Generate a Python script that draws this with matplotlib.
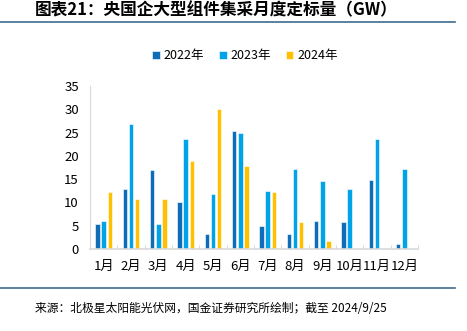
import matplotlib
matplotlib.use("Agg")
from matplotlib import pyplot as plt
import numpy as np

plt.rcParams['font.family'] = ['Noto Sans CJK SC', 'DejaVu Sans']

months = ['1月', '2月', '3月', '4月', '5月', '6月', '7月', '8月', '9月', '10月', '11月', '12月']
y2022 = [5.3, 12.9, 17.0, 10.0, 3.3, 25.3, 5.0, 3.2, 6.1, 5.8, 14.8, 1.0]
y2023 = [6.1, 26.9, 5.3, 23.7, 11.9, 25.0, 12.4, 17.2, 14.5, 12.9, 23.7, 17.2]
y2024 = [12.2, 10.8, 10.8, 19.0, 30.0, 17.8, 12.2, 5.8, 1.7]
series_names = ['2022年', '2023年', '2024年']
colors = ['#0F6CB6', '#00A2E8', '#FFC000']

fig = plt.figure(figsize=(4.67, 3.31), dpi=100)
ax = fig.add_axes([90/467, 1 - 249/331, 328/467, 163/331])

x = np.arange(len(months))
w = 0.16
gap = 0.23
for k, (vals, c, name) in enumerate(zip([y2022, y2023, y2024], colors, series_names)):
    xs = x[:len(vals)] + (k - 1) * gap
    ax.bar(xs, vals, width=w, color=c, label=name, edgecolor='white', linewidth=0.4)

ax.set_xlim(-0.5, 11.5)
ax.set_ylim(0, 35)
ax.set_yticks(range(0, 36, 5))
ax.set_xticks(x)
ax.set_xticklabels(months, fontsize=9.5)
ax.tick_params(axis='y', labelsize=9.5, length=0, pad=8)
ax.tick_params(axis='x', length=0, pad=8)
ax.set_xticks(np.arange(-0.5, 12, 1), minor=True)
ax.tick_params(axis='x', which='minor', direction='in', length=3, color='#d0d0d0')
for s in ['top', 'right']:
    ax.spines[s].set_visible(False)
ax.spines['left'].set_color('#d9d9d9')
ax.spines['bottom'].set_color('#d9d9d9')
ax.spines['bottom'].set_linewidth(1.2)

ax.legend(loc='upper center', bbox_to_anchor=(155/328, 1 + 48/163), ncol=3, frameon=False,
          fontsize=9, handlelength=0.6, handleheight=0.6, handletextpad=0.3, columnspacing=1.2)

fig.text(35/467, 1 - 10/331, '图表21：央国企大型组件集采月度定标量（GW）', fontsize=12, fontweight='bold',
         fontstyle='italic', va='center', ha='left')
fig.add_artist(plt.Line2D([0, 455/467], [1 - 22/331, 1 - 22/331], color='#3F6C8F', linewidth=1.2))
fig.add_artist(plt.Line2D([0, 455/467], [1 - 288/331, 1 - 288/331], color='#3F6C8F', linewidth=1.2))
fig.text(35/467, 1 - 308/331, '来源：北极星太阳能光伏网，国金证券研究所绘制；截至 2024/9/25', fontsize=8.5,
         va='center', ha='left')

fig.savefig('out.png', dpi=100)
